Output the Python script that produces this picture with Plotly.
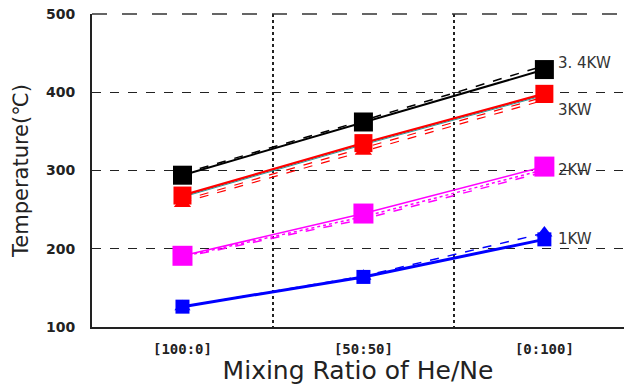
import plotly.graph_objects as go

categories = ["[100:0]", "[50:50]", "[0:100]"]
xpos = [1, 2, 3]

# measured (squares, solid) and other series (triangles / dashed)
kw34_sq = [294, 362, 429]
kw34_dash = [296, 364, 434]
kw3_sq = [268, 335, 398]
kw3_tri = [258, 325, 391]
kw3_teal = [266, 333, 396]
kw3_dash1 = [262, 329, 394]
kw3_dash2 = [259, 325, 390]
kw2_sq = [191, 245, 305]
kw2_dash = [189, 238, 298]
kw2_dot = [190, 241, 301]
kw1_sq = [126, 164, 212]
kw1_tri = [126, 165, 220]

labels = ["3. 4KW", "3KW", "2KW", "1KW"]
label_y = [437, 377, 301, 212]

fig = go.Figure()

def line(y, color, dash="solid", width=2):
    fig.add_trace(go.Scatter(x=xpos, y=y, mode="lines",
                             line=dict(color=color, dash=dash, width=width),
                             showlegend=False, hoverinfo="skip"))

def marks(y, color, symbol, size):
    fig.add_trace(go.Scatter(x=xpos, y=y, mode="markers",
                             marker=dict(color=color, symbol=symbol, size=size,
                                         line=dict(width=0)),
                             showlegend=False, hoverinfo="skip"))

# lines
line(kw34_dash, "black", "dash", 1.5)
line(kw34_sq, "black", "solid", 2)
line(kw3_dash1, "red", "dash", 1.2)
line(kw3_dash2, "red", "dash", 1.2)
line(kw3_sq, "red", "solid", 2.5)
line(kw3_teal, "#2f9a9a", "solid", 1)
line(kw2_dash, "#ff00ff", "dash", 1.5)
line(kw2_dot, "#ff00ff", "dot", 1.5)
line(kw2_sq, "#ff00ff", "solid", 1.5)
line(kw1_tri, "blue", "dash", 1.5)
line(kw1_sq, "blue", "solid", 3)

# markers
marks(kw3_tri, "red", "triangle-up", 15)
marks(kw1_tri, "blue", "triangle-up", 14)
marks(kw34_sq, "black", "square", 19)
marks(kw3_sq, "red", "square", 18)
marks(kw2_sq, "#ff00ff", "square", 20)
marks(kw1_sq, "blue", "square", 14)

for t, yv in zip(labels, label_y):
    fig.add_annotation(x=3, y=yv, xref="x", yref="y", text=t, showarrow=False,
                       xanchor="left", yanchor="middle", xshift=12,
                       font=dict(family="DejaVu Sans", size=15, color="#333333"))

# top border drawn as a long-dashed line
fig.add_shape(type="line", xref="paper", yref="paper", x0=0, x1=1, y0=1, y1=1,
              line=dict(color="#333333", width=1.5, dash="longdash"))

fig.update_layout(
    width=624, height=385,
    margin=dict(l=92, r=0, t=14, b=58, autoexpand=False),
    paper_bgcolor="white", plot_bgcolor="white",
    showlegend=False,
)
fig.update_xaxes(
    range=[0.5, 3.44], tickmode="array", tickvals=xpos, ticktext=categories,
    showgrid=False, zeroline=False, showline=True, linecolor="#222222", linewidth=2,
    ticks="", ticklabelstandoff=8,
    tickfont=dict(family="DejaVu Sans Mono", size=14, color="#222222", weight="bold"),
    title=dict(text="Mixing Ratio of He/Ne", standoff=6,
               font=dict(family="DejaVu Sans", size=25, color="#222222")),
    minor=dict(tickvals=[1.5, 2.5], showgrid=True, gridcolor="#222222",
               griddash="dot", gridwidth=1.5, ticks=""),
)
fig.update_yaxes(
    range=[100, 500], tickvals=[100, 200, 300, 400, 500],
    showgrid=True, gridcolor="#222222", griddash="dash", gridwidth=1.2,
    zeroline=False, showline=True, linecolor="#222222", linewidth=2, ticks="",
    ticklabelstandoff=12, ticklabeloverflow="allow",
    tickfont=dict(family="DejaVu Sans", size=14, color="#222222", weight="bold"),
    title=dict(text="Temperature(℃)", standoff=12,
               font=dict(family="DejaVu Sans", size=21, color="#222222")),
)

fig.write_html("out.html", config={"displayModeBar": False},
               post_script="document.body.style.margin='0';document.body.style.padding='0';")
